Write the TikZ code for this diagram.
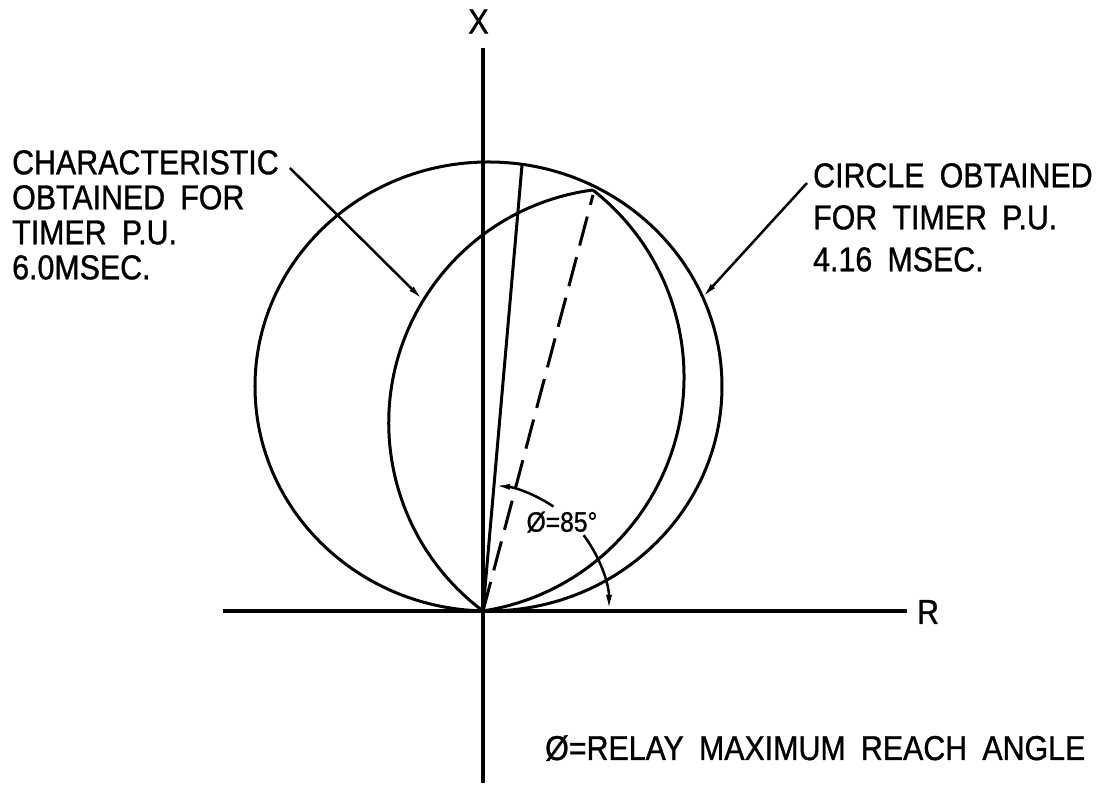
\documentclass[tikz,border=0pt]{standalone}
\usepackage{fontspec}
\setmainfont[FakeStretch=0.88, FakeBold=1, WordSpace=1.8]{Liberation Sans}
\usetikzlibrary{arrows.meta}

\begin{document}
\begin{tikzpicture}[x=1pt, y=1pt]
        \useasboundingbox (-483,-175) rectangle (621,611);
        \tikzstyle{every node}=[inner sep=0pt, font=\fontsize{34.5}{35}\selectfont]
        \tikzstyle{axis}=[line width=3.5pt]
        \tikzstyle{curve}=[line width=3pt]
        \tikzstyle{pointer}=[-{Latex[length=16pt, width=6pt]}, line width=2.5pt]
        \coordinate (O)      at (0,    0);
        \coordinate (xtop)   at (0,    563);
        \coordinate (xbot)   at (0,   -172);
        \coordinate (rleft)  at (-260, 0);
        \coordinate (rright) at (424,  0);
        \coordinate (P)      at (110,  421);
        \coordinate (Pd)     at (110,  416);
        \coordinate (reach)  at (85:448);
        \coordinate (chartip) at (-60, 311);
        \coordinate (circtip) at (219, 313);
        % axes
        \draw[axis] (xtop) -- (xbot);
        \draw[axis] (rleft) -- (rright);
        \node (xlabel) at (-4.5, 589.5) {X};
        \node (rlabel) at (445, -1) {R};
        % circle for 4.16 msec
        \draw[curve] (5.5, 224.5) ellipse [x radius=233.5, y radius=224.5];
        % characteristic for 6.0 msec
        \draw[curve] (P) arc[start angle=97.5, end angle=233.2, radius=234.9]
                         arc[start angle=-81.3, end angle=52.0, radius=236.9];
        \draw[curve] (O) -- (reach);
        \draw[curve, dash pattern=on 30pt off 12pt] (O) -- (Pd);
        % angle
        \draw[pointer] (56:126) arc[start angle=56, end angle=85, radius=126];
        \draw[pointer] (37:126) arc[start angle=37, end angle=0, radius=126];
        \node[font=\fontsize{28}{30}\selectfont] (phi) at (79, 89) {Ø=85°};
        % labels
        \node[anchor=north west, align=left] (chartext) at (-471, 461)
            {CHARACTERISTIC\\OBTAINED FOR\\TIMER P.U.\\6.0MSEC.};
        \node[anchor=north west, align=left, font=\fontsize{34.5}{42}\selectfont] (circtext) at (330, 448)
            {CIRCLE OBTAINED\\FOR TIMER P.U.\\4.16 MSEC.};
        \node[anchor=base west] (reachtext) at (62, -149) {Ø=RELAY MAXIMUM REACH ANGLE};
        \draw[pointer] ([xshift=11pt, yshift=-18pt]chartext.north east) -- (chartip);
        \draw[pointer] ([xshift=-6pt, yshift=-20pt]circtext.north west) -- (circtip);
\end{tikzpicture}
\end{document}
